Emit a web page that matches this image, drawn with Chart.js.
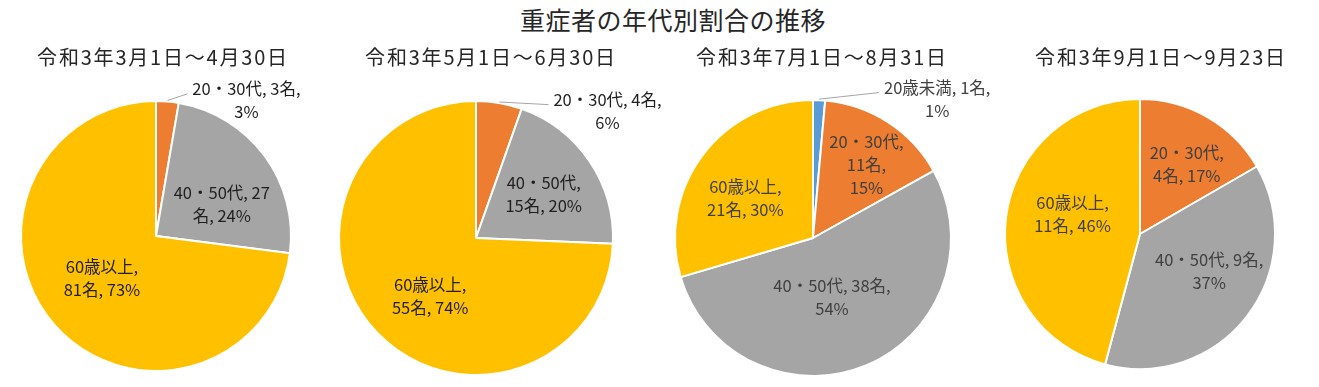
<!DOCTYPE html>
<html>
<head>
<meta charset="utf-8">
<script src="https://cdn.jsdelivr.net/npm/chart.js@4.4.0/dist/chart.umd.min.js"></script>
<style>
  html, body { margin: 0; padding: 0; background: #fff; }
  #wrap { position: relative; width: 1319px; height: 387px; overflow: hidden; font-family: 'Noto Sans CJK JP', sans-serif; }
  #wrap canvas { position: absolute; left: 0; top: 0; }
  .ttl { position: absolute; white-space: nowrap; color: #262626; transform: translate(-50%, -50%); line-height: 1; }
  #mainTitle { left: 673px; top: 19px; font-size: 25px; letter-spacing: 0.5px; }
  .sub { top: 57px; font-size: 20px; letter-spacing: 1.8px; }
</style>
</head>
<body>
<div id="wrap">
  <div id="mainTitle" class="ttl">重症者の年代別割合の推移</div>
  <canvas id="pie1" width="1319" height="387"></canvas>
  <canvas id="pie2" width="1319" height="387"></canvas>
  <canvas id="pie3" width="1319" height="387"></canvas>
  <canvas id="pie4" width="1319" height="387"></canvas>
</div>
<script>
// data
const categories = ['20歳未満', '20・30代', '40・50代', '60歳以上'];
const periods = ['令和3年3月1日～4月30日', '令和3年5月1日～6月30日', '令和3年7月1日～8月31日', '令和3年9月1日～9月23日'];
const counts1 = [0, 3, 27, 81];
const counts2 = [0, 4, 15, 55];
const counts3 = [1, 11, 38, 21];
const counts4 = [0, 4, 9, 11];
const pct1 = [0, 3, 24, 73];
const pct2 = [0, 6, 20, 74];
const pct3 = [1, 15, 54, 30];
const pct4 = [0, 17, 37, 46];

const colors = ['#5B9BD5', '#ED7D31', '#A5A5A5', '#FFC000'];

// layout for each pie: centre, radius, label wrapping and placement
const layouts = [
  { cx: 156, cy: 236, r: 136, subX: 163, ink: '#1f1f1f',
    fmt: { 1: '{n}, {c}名,\n{p}%', 2: '{n}, {c}\n名, {p}%', 3: '{n},\n{c}名, {p}%' },
    place: { 2: [0.54, 11], 3: [0.51, 3] },
    outside: { 1: [0.67, -1.09] } },
  { cx: 476, cy: 238, r: 138, subX: 491, ink: '#1f1f1f',
    fmt: { 1: '{n}, {c}名,\n{p}%', 2: '{n},\n{c}名, {p}%', 3: '{n},\n{c}名, {p}%' },
    place: { 2: [0.59, 1], 3: [0.54, -8] },
    outside: { 1: [0.96, -1.01] } },
  { cx: 813, cy: 238, r: 139, subX: 822, ink: '#404040',
    fmt: { 0: '{n}, {c}名,\n{p}%', 1: '{n},\n{c}名,\n{p}%', 2: '{n}, {c}名,\n{p}%', 3: '{n},\n{c}名, {p}%' },
    place: { 1: [0.66, 3], 2: [0.45, 5], 3: [0.57, -6] },
    outside: { 0: [0.90, -1.09] } },
  { cx: 1140, cy: 234, r: 136, subX: 1161, ink: '#404040',
    fmt: { 1: '{n},\n{c}名, {p}%', 2: '{n}, {c}名,\n{p}%', 3: '{n},\n{c}名, {p}%' },
    place: { 1: [0.62, 4], 2: [0.58, -9.5], 3: [0.52, 8.5] },
    outside: {} }
];

const allCounts = [counts1, counts2, counts3, counts4];
const allPct = [pct1, pct2, pct3, pct4];

// labels drawn next to / inside each slice
const sliceLabels = {
  id: 'sliceLabels',
  afterDatasetsDraw(chart, args, opts) {
    const ctx = chart.ctx;
    const meta = chart.getDatasetMeta(0);
    const lh = 23;
    ctx.save();
    ctx.font = '16.5px "Noto Sans CJK JP"';
    ctx.textAlign = 'center';
    ctx.textBaseline = 'middle';
    meta.data.forEach((arc, i) => {
      const k = opts.idx[i];
      const p = arc.getProps(['x', 'y', 'startAngle', 'endAngle', 'outerRadius'], true);
      const text = opts.fmt[k].replace('{n}', categories[k]).replace('{c}', opts.counts[k]).replace('{p}', opts.pct[k]);
      const lines = text.split('\n');
      const mid = (p.startAngle + p.endAngle) / 2;
      if (opts.outside[k]) {
        const [fx, fy] = opts.outside[k];
        const tx = p.x + fx * p.outerRadius;
        const ty = p.y + fy * p.outerRadius;
        const w = ctx.measureText(lines[0]).width;
        // leader line
        ctx.strokeStyle = '#A6A6A6';
        ctx.lineWidth = 1;
        ctx.beginPath();
        ctx.moveTo(p.x + Math.cos(mid) * (p.outerRadius + 1), p.y + Math.sin(mid) * (p.outerRadius + 1));
        ctx.lineTo(tx - w / 2 - 5, ty + 5);
        ctx.stroke();
        ctx.fillStyle = opts.ink;
        lines.forEach((ln, j) => ctx.fillText(ln, tx, ty + j * lh));
      } else {
        const [rf, da] = opts.place[k];
        const a = mid + da * Math.PI / 180;
        const tx = p.x + Math.cos(a) * p.outerRadius * rf;
        const ty = p.y + Math.sin(a) * p.outerRadius * rf;
        ctx.fillStyle = opts.ink;
        const y0 = ty - (lines.length - 1) * lh / 2;
        lines.forEach((ln, j) => ctx.fillText(ln, tx, y0 + j * lh));
      }
    });
    ctx.restore();
  }
};

const wrap = document.getElementById('wrap');

layouts.forEach((lay, n) => {
  const counts = allCounts[n];
  const idx = [];
  counts.forEach((v, k) => { if (v > 0) idx.push(k); });

  const sub = document.createElement('div');
  sub.className = 'ttl sub';
  sub.style.left = lay.subX + 'px';
  sub.textContent = periods[n];
  wrap.appendChild(sub);

  new Chart(document.getElementById('pie' + (n + 1)).getContext('2d'), {
    type: 'pie',
    data: {
      labels: idx.map(k => categories[k]),
      datasets: [{
        data: idx.map(k => counts[k]),
        backgroundColor: idx.map(k => colors[k]),
        borderColor: '#ffffff',
        borderWidth: 2
      }]
    },
    options: {
      responsive: false,
      animation: false,
      devicePixelRatio: 1,
      layout: {
        padding: {
          left: lay.cx - lay.r,
          right: 1319 - lay.cx - lay.r,
          top: lay.cy - lay.r,
          bottom: 387 - lay.cy - lay.r
        }
      },
      plugins: {
        legend: { display: false },
        title: { display: false },
        tooltip: { enabled: false },
        sliceLabels: {
          idx: idx,
          counts: counts,
          pct: allPct[n],
          fmt: lay.fmt,
          place: lay.place,
          outside: lay.outside,
          ink: lay.ink
        }
      }
    },
    plugins: [sliceLabels]
  });
});
</script>
</body>
</html>
